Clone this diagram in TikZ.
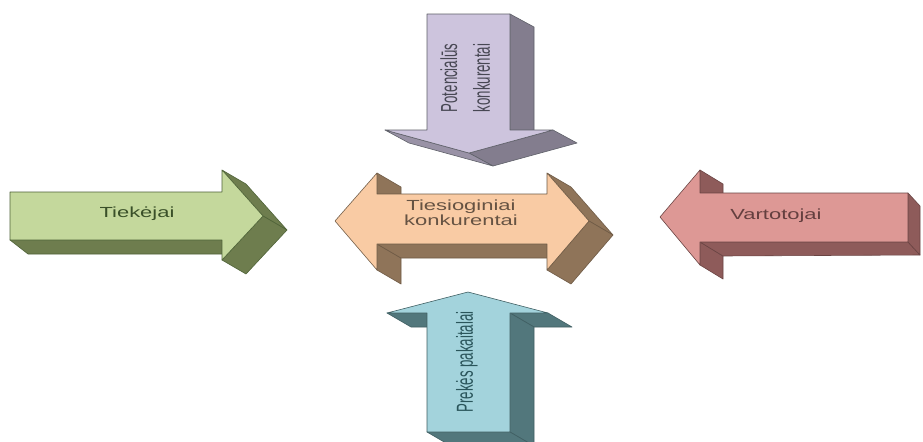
\documentclass[tikz,border=0pt]{standalone}
\usepackage{fontspec}
\setmainfont{Liberation Sans}
\usepackage{graphicx}

\definecolor{greenFront}{HTML}{C4D89C}
\definecolor{greenSide}{HTML}{6E7D4E}
\definecolor{greenLine}{HTML}{4F6338}
\definecolor{greenText}{HTML}{3A5029}
\definecolor{peachFront}{HTML}{F9CBA4}
\definecolor{peachSide}{HTML}{8F7459}
\definecolor{peachLine}{HTML}{6E5A45}
\definecolor{peachText}{HTML}{665343}
\definecolor{pinkFront}{HTML}{DD9895}
\definecolor{pinkSide}{HTML}{8E5B5A}
\definecolor{pinkLine}{HTML}{6A4443}
\definecolor{pinkText}{HTML}{643F3F}
\definecolor{lilacFront}{HTML}{CDC4DD}
\definecolor{lilacSide}{HTML}{837D8E}
\definecolor{lilacLine}{HTML}{5E6068}
\definecolor{lilacText}{HTML}{474753}
\definecolor{blueFront}{HTML}{A3D3DC}
\definecolor{blueSide}{HTML}{52777C}
\definecolor{blueLine}{HTML}{3F5E62}
\definecolor{blueText}{HTML}{2A555B}

\tikzstyle{face} = [line width=0.5pt, line join=round]
\tikzstyle{flattext} = [font=\fontsize{12.5}{13}\selectfont, align=center, inner sep=0pt]
\tikzstyle{uptext} = [font=\fontsize{11.3}{16}\selectfont, align=center, inner sep=0pt, rotate=90]

\newcommand{\wide}[1]{\scalebox{1.5}[1]{#1}}
\newcommand{\tall}[1]{\scalebox{1}[1.75]{#1}}

\begin{document}
\begin{tikzpicture}[x=0.03cm, y=-0.03cm]

    \fill[white] (0,0) rectangle (923,441);
    \useasboundingbox (0,0) rectangle (923,441);

    % Tiekejai
    \filldraw[face, fill=greenSide, draw=greenLine] (10,240) -- (222,240) -- (246,254) -- (28,254) -- cycle;
    \filldraw[face, fill=greenSide, draw=greenLine] (222,170) -- (263,216) -- (287,230) -- (246,184) -- cycle;
    \filldraw[face, fill=greenSide, draw=greenLine] (263,216) -- (222,260) -- (246,274) -- (287,230) -- cycle;
    \filldraw[face, fill=greenFront, draw=greenLine] (10,192) -- (222,192) -- (222,170) -- (263,216) -- (222,260) -- (222,240) -- (10,240) -- cycle;
    \node[flattext, text=greenText] (suppliers) at (137,214) {\wide{Tiekėjai}};

    % Tiesioginiai konkurentai
    \filldraw[face, fill=peachSide, draw=peachLine] (377,173) -- (401,187) -- (401,208) -- (377,194) -- cycle;
    \filldraw[face, fill=peachSide, draw=peachLine] (377,244) -- (401,258) -- (401,284) -- (377,270) -- cycle;
    \filldraw[face, fill=peachSide, draw=peachLine] (377,244) -- (547,244) -- (571,258) -- (401,258) -- cycle;
    \filldraw[face, fill=peachSide, draw=peachLine] (547,173) -- (589,221) -- (613,235) -- (571,187) -- cycle;
    \filldraw[face, fill=peachSide, draw=peachLine] (589,221) -- (547,270) -- (571,284) -- (613,235) -- cycle;
    \filldraw[face, fill=peachFront, draw=peachLine] (335,221) -- (377,173) -- (377,194) -- (547,194) -- (547,173) -- (589,221) -- (547,270) -- (547,244) -- (377,244) -- (377,270) -- cycle;
    \node[flattext, text=peachText] (rivals) at (461,215) {\wide{\begin{tabular}{@{}c@{}}Tiesioginiai\\konkurentai\end{tabular}}};

    % Vartotojai
    \filldraw[face, fill=pinkSide, draw=pinkLine] (700,170) -- (723,184) -- (723,207) -- (700,193) -- cycle;
    \filldraw[face, fill=pinkSide, draw=pinkLine] (700,242) -- (723,256) -- (723,279) -- (700,265) -- cycle;
    \filldraw[face, fill=pinkSide, draw=pinkLine] (700,242) -- (908,242) -- (920,255) -- (723,256) -- cycle;
    \filldraw[face, fill=pinkSide, draw=pinkLine] (908,193) -- (920,206) -- (920,255) -- (908,242) -- cycle;
    \filldraw[face, fill=pinkFront, draw=pinkLine] (660,217) -- (700,170) -- (700,193) -- (908,193) -- (908,242) -- (700,242) -- (700,265) -- cycle;
    \node[flattext, text=pinkText] (buyers) at (776,216) {\wide{Vartotojai}};

    % Potencialus konkurentai
    \filldraw[face, fill=lilacSide, draw=lilacLine] (510,14) -- (534,27) -- (534,143) -- (510,130) -- cycle;
    \filldraw[face, fill=lilacSide, draw=lilacLine] (553,130) -- (577,143) -- (493,166) -- (469,153) -- cycle;
    \filldraw[face, fill=lilacSide!70!lilacFront, draw=lilacLine] (469,153) -- (493,166) -- (409,143) -- (385,130) -- cycle;
    \filldraw[face, fill=lilacFront, draw=lilacLine] (427,14) -- (510,14) -- (510,130) -- (553,130) -- (469,153) -- (385,130) -- (427,130) -- cycle;
    \node[uptext, text=lilacText] (entrants) at (467,78) {\tall{\begin{tabular}{@{}c@{}}Potencialūs\\konkurentai\end{tabular}}};

    % Prekes pakaitalai
    \filldraw[face, fill=blueSide, draw=blueLine] (387,313) -- (427,313) -- (451,327) -- (411,327) -- cycle;
    \filldraw[face, fill=blueSide, draw=blueLine] (510,313) -- (548,313) -- (572,327) -- (534,327) -- cycle;
    \filldraw[face, fill=blueSide, draw=blueLine] (510,313) -- (534,327) -- (534,446) -- (510,432) -- cycle;
    \filldraw[face, fill=blueSide, draw=blueLine] (427,432) -- (510,432) -- (534,446) -- (451,446) -- cycle;
    \filldraw[face, fill=blueFront, draw=blueLine] (468,292) -- (548,313) -- (510,313) -- (510,432) -- (427,432) -- (427,313) -- (387,313) -- cycle;
    \node[uptext, text=blueText] (substitutes) at (467,362) {\tall{Prekės pakaitalai}};

\end{tikzpicture}
\end{document}
